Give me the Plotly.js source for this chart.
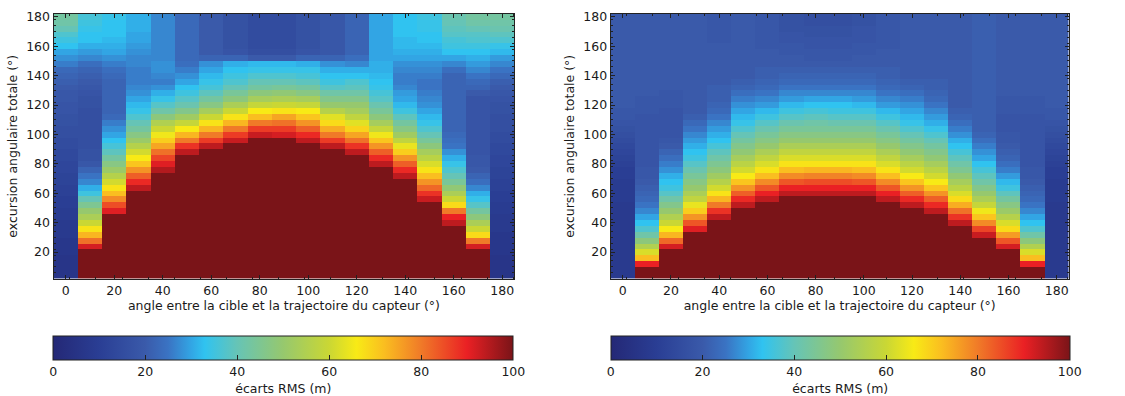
<!DOCTYPE html>
<html><head><meta charset="utf-8">
<script src="https://cdn.plot.ly/plotly-3.0.1.min.js"></script>
<style>html,body{margin:0;padding:0;background:#fff}#g{width:1125px;height:396px}</style>
</head><body><div id="g"></div>
<script>
// x categories: angle between target and sensor trajectory (deg)
const angles = [0,10,20,30,40,50,60,70,80,90,100,110,120,130,140,150,160,170,180];
// y rows: total angular excursion (deg), row centres
const excursions = [4,8,12,16,20,24,28,32,36,40,44,48,52,56,60,64,68,72,76,80,84,88,92,96,100,104,108,112,116,120,124,128,132,136,140,144,148,152,156,160,164,168,172,176,180];
const cbTicks = [0,20,40,60,80,100];

// ---- left map: RMS error (m), one array per angle column, bottom row first
const L0   = [6,6,6,6,7,7,7,8,8,8,9,9,10,10,11,11,12,12,13,13,14,14,15,15,16,16,17,17,18,18,19,19,20,21,22,23,26,28,30,33,35,37,40,42,43];
const L10  = [100,100,100,100,100,92,81,73,67,60,54,50,45,40,35,31,27,25,22,19,17,17,16,16,16,16,16,16,16,17,17,18,19,20,21,22,24,27,29,31,33,33,34,35,36];
const L20  = [100,100,100,100,100,100,100,100,100,100,100,91,85,78,72,67,61,56,51,47,43,39,36,33,30,28,26,23,22,22,22,22,22,22,23,24,26,28,30,31,32,33,33,33,34];
const L30  = [100,100,100,100,100,100,100,100,100,100,100,100,100,100,100,94,89,83,77,71,66,61,56,51,47,43,40,37,34,32,30,28,27,26,26,26,27,27,28,29,30,30,31,31,31];
const L40  = [100,100,100,100,100,100,100,100,100,100,100,100,100,100,100,100,100,100,95,91,86,81,75,70,65,60,55,48,42,38,34,31,28,26,27,28,28,27,27,27,27,27,27,27,27];
const L50  = [100,100,100,100,100,100,100,100,100,100,100,100,100,100,100,100,100,100,100,100,100,94,88,80,73,66,59,52,46,41,38,35,33,30,28,26,24,23,23,23,23,23,23,23,23];
const L60  = [100,100,100,100,100,100,100,100,100,100,100,100,100,100,100,100,100,100,100,100,100,100,94,87,80,73,67,60,53,47,43,39,36,34,32,30,28,22,20,20,20,20,20,20,20];
const L70  = [100,100,100,100,100,100,100,100,100,100,100,100,100,100,100,100,100,100,100,100,100,100,100,93,87,80,73,67,60,54,48,44,40,37,35,33,31,22,18,17,17,17,17,17,17];
const L80  = [100,100,100,100,100,100,100,100,100,100,100,100,100,100,100,100,100,100,100,100,100,100,100,100,93,87,80,72,66,59,53,48,43,40,37,34,32,20,16,15,15,15,15,15,15];
const L90  = [100,100,100,100,100,100,100,100,100,100,100,100,100,100,100,100,100,100,100,100,100,100,100,100,92,87,81,75,67,60,54,49,44,40,37,34,32,20,16,15,15,15,15,15,15];
const L100 = [100,100,100,100,100,100,100,100,100,100,100,100,100,100,100,100,100,100,100,100,100,100,100,94,89,83,77,71,66,59,53,47,43,39,36,34,31,22,18,17,17,17,17,17,17];
const L110 = [100,100,100,100,100,100,100,100,100,100,100,100,100,100,100,100,100,100,100,100,100,100,94,87,80,74,68,63,56,50,46,42,38,35,33,31,28,22,19,19,19,19,19,19,19];
const L120 = [100,100,100,100,100,100,100,100,100,100,100,100,100,100,100,100,100,100,100,100,100,94,88,81,75,69,63,58,53,50,46,42,39,37,33,31,27,24,22,22,22,22,22,22,22];
const L130 = [100,100,100,100,100,100,100,100,100,100,100,100,100,100,100,100,100,100,100,94,89,83,77,71,65,59,53,48,44,41,38,36,34,33,32,31,31,30,30,30,30,30,30,30,30];
const L140 = [100,100,100,100,100,100,100,100,100,100,100,100,100,100,100,100,100,94,89,83,77,70,64,58,52,47,43,39,35,32,30,29,27,26,26,27,28,30,31,32,32,33,33,33,33];
const L150 = [100,100,100,100,100,100,100,100,100,100,100,100,100,93,88,82,77,72,67,62,57,53,48,44,40,37,34,32,30,28,27,26,25,25,26,27,28,30,31,32,33,33,34,34,35];
const L160 = [100,100,100,100,100,100,100,100,100,94,90,80,68,60,54,49,44,40,37,34,31,28,25,24,23,22,22,22,22,22,22,22,22,22,22,24,27,30,33,35,36,38,39,40,41];
const L170 = [100,100,100,100,100,92,80,68,60,54,48,43,38,34,31,27,24,22,20,19,19,18,18,18,18,18,18,18,18,18,18,20,22,23,25,27,29,31,33,35,37,38,40,42,43];
const L180 = [6,6,6,6,7,7,7,7,8,8,8,9,9,10,10,11,11,12,12,13,13,14,14,15,15,16,16,16,17,17,18,19,20,21,23,25,27,29,32,34,37,39,41,42,43];

// ---- right map
const R0   = [8,8,8,8,8,8,8,8,8,8,8,8,8,9,9,9,9,10,10,11,12,13,14,15,16,17,18,19,19,20,20,20,20,20,20,20,20,20,20,20,20,20,20,20,20];
const R10  = [100,100,90,72,62,55,48,42,37,33,30,27,25,23,22,21,20,19,19,18,18,18,18,18,18,18,18,18,19,19,19,20,20,20,20,20,20,20,20,20,20,20,20,20,20];
const R20  = [100,100,100,100,100,92,82,73,66,60,55,50,46,42,38,35,33,31,28,26,24,22,20,19,18,18,18,18,18,19,19,19,20,20,20,20,20,20,20,20,20,20,20,20,20];
const R30  = [100,100,100,100,100,100,100,100,91,84,77,70,64,58,54,50,47,44,41,38,35,33,31,29,27,25,23,21,20,20,20,20,20,20,20,20,20,20,20,20,20,20,20,20,20];
const R40  = [100,100,100,100,100,100,100,100,100,100,94,88,80,73,67,61,56,52,48,45,42,39,36,33,31,29,27,25,23,22,21,21,21,20,20,20,20,20,20,20,19,19,19,19,19];
const R50  = [100,100,100,100,100,100,100,100,100,100,100,100,94,89,83,77,71,66,61,57,53,49,46,43,40,37,34,32,30,28,26,24,22,21,20,20,20,20,20,20,20,20,20,20,20];
const R60  = [100,100,100,100,100,100,100,100,100,100,100,100,100,94,90,84,78,72,67,62,58,54,50,47,44,41,38,35,32,29,27,25,23,22,21,21,20,20,20,19,19,19,19,19,19];
const R70  = [100,100,100,100,100,100,100,100,100,100,100,100,100,100,94,90,84,78,72,67,62,58,54,50,47,44,41,38,35,32,29,27,25,23,22,21,20,20,19,19,18,18,17,17,17];
const R80  = [100,100,100,100,100,100,100,100,100,100,100,100,100,100,94,90,85,79,73,67,62,58,54,50,47,44,42,39,36,33,30,27,25,23,22,21,20,19,19,18,18,17,17,16,16];
const R90  = [100,100,100,100,100,100,100,100,100,100,100,100,100,100,94,90,85,79,73,67,62,58,54,50,47,44,41,38,35,33,30,27,25,23,22,21,20,19,19,18,18,17,17,16,16];
const R100 = [100,100,100,100,100,100,100,100,100,100,100,100,100,100,94,90,84,78,72,67,62,58,54,50,47,44,41,38,35,32,29,27,25,23,22,21,20,20,19,19,18,18,18,17,17];
const R110 = [100,100,100,100,100,100,100,100,100,100,100,100,100,94,90,84,78,72,67,62,58,54,50,47,44,41,38,35,32,29,27,25,23,22,21,21,20,20,20,19,19,19,19,19,19];
const R120 = [100,100,100,100,100,100,100,100,100,100,100,100,94,89,83,77,71,66,61,57,53,49,46,43,40,37,34,32,30,28,26,24,22,21,20,20,20,20,20,20,20,20,20,20,20];
const R130 = [100,100,100,100,100,100,100,100,100,100,100,94,89,83,77,71,66,61,57,53,49,46,43,40,37,34,31,29,27,25,23,22,21,21,20,20,20,20,20,20,20,20,20,20,20];
const R140 = [100,100,100,100,100,100,100,100,100,94,88,81,74,68,62,57,53,49,45,42,39,36,33,31,28,26,24,22,21,20,20,20,20,20,20,20,20,20,20,20,20,20,20,20,20];
const R150 = [100,100,100,100,100,100,100,93,86,78,71,65,59,54,50,46,42,39,36,33,30,28,26,24,22,21,21,21,21,21,21,21,21,21,21,21,21,21,21,21,21,21,21,21,21];
const R160 = [100,100,100,100,100,92,84,76,68,62,56,51,47,43,39,35,32,29,26,24,22,21,20,19,19,18,18,18,19,19,19,20,20,20,20,20,20,20,20,20,20,20,20,20,20];
const R170 = [100,100,90,72,62,55,48,42,37,33,30,27,25,23,22,21,20,19,19,18,18,18,18,18,18,18,18,18,19,19,19,20,20,20,20,20,20,20,20,20,20,20,20,20,20];
const R180 = [8,8,8,8,8,8,8,8,8,8,8,8,8,9,9,9,9,10,10,11,12,13,14,15,16,17,18,19,19,20,20,20,20,20,20,20,20,20,20,20,20,20,20,20,20];

const leftCols  = [L0,L10,L20,L30,L40,L50,L60,L70,L80,L90,L100,L110,L120,L130,L140,L150,L160,L170,L180];
const rightCols = [R0,R10,R20,R30,R40,R50,R60,R70,R80,R90,R100,R110,R120,R130,R140,R150,R160,R170,R180];

function toZ(cols){ return excursions.map((_, k) => cols.map(col => col[k])); }

const cscale = [
  [0.00,'rgb(36,40,118)'],
  [0.10,'rgb(42,62,148)'],
  [0.20,'rgb(58,90,170)'],
  [0.25,'rgb(58,115,195)'],
  [0.30,'rgb(50,165,228)'],
  [0.33,'rgb(48,195,240)'],
  [0.40,'rgb(102,196,182)'],
  [0.50,'rgb(150,200,110)'],
  [0.60,'rgb(202,215,52)'],
  [0.66,'rgb(248,234,22)'],
  [0.72,'rgb(250,190,32)'],
  [0.80,'rgb(240,122,40)'],
  [0.90,'rgb(234,32,36)'],
  [1.00,'rgb(122,20,24)']
];

const W = 1125, H = 396;
const FONT = {family:'DejaVu Sans, sans-serif', size:12.5, color:'#1a1a1a'};
const yTop = 1 - 14/H, yBot = 1 - 280.7/H;
const dL = [53.5/W, 514.4/W], dR = [610.7/W, 1068.7/W];

function xax(domain){
  return {domain, range:[-5,185], tickvals:[0,20,40,60,80,100,120,140,160,180],
    ticks:'inside', ticklen:4, tickcolor:'#222', showline:true, linecolor:'#222', linewidth:1,
    mirror:'ticks', showgrid:false, zeroline:false, automargin:false, tickfont:FONT,
    minor:{tick0:1.75, dtick:10.75, ticks:'inside', ticklen:2, tickcolor:'#222', showgrid:false},
    title:{text:'angle entre la cible et la trajectoire du capteur (°)', font:FONT, standoff:1}};
}
function yax(anchor){
  return {domain:[yBot, yTop], range:[2,182], anchor, tickvals:[20,40,60,80,100,120,140,160,180],
    ticks:'inside', ticklen:4, tickcolor:'#222', showline:true, linecolor:'#222', linewidth:1,
    mirror:'ticks', showgrid:false, zeroline:false, automargin:false, tickfont:FONT,
    minor:{dtick:4, tick0:2, ticks:'inside', ticklen:2, tickcolor:'#222', showgrid:false},
    title:{text:'excursion angulaire totale (°)', font:FONT, standoff:5}};
}
function cbar(x0, x1){
  return {orientation:'h', x:x0, xanchor:'left', len:(x1-x0), lenmode:'fraction',
    y:1-338.3/H, yanchor:'top', thickness:24, thicknessmode:'pixels', xpad:0, ypad:0,
    outlinecolor:'#222', outlinewidth:1, tickvals:cbTicks, ticks:'inside', ticklen:5, tickcolor:'#222',
    tickfont:FONT, title:{text:'écarts RMS (m)', side:'bottom', font:FONT}};
}

const data = [
  {type:'heatmap', x:angles, y:excursions, z:toZ(leftCols), coloraxis:'coloraxis', xaxis:'x', yaxis:'y', hoverongaps:false},
  {type:'heatmap', x:angles, y:excursions, z:toZ(rightCols), coloraxis:'coloraxis2', xaxis:'x2', yaxis:'y2', hoverongaps:false}
];
const layout = {
  width:W, height:H, margin:{l:0,r:0,t:0,b:0}, paper_bgcolor:'#fff', plot_bgcolor:'#fff',
  font:FONT, showlegend:false,
  xaxis:xax(dL), yaxis:yax('x'),
  xaxis2:Object.assign(xax(dR), {anchor:'y2'}), yaxis2:yax('x2'),
  coloraxis:{cmin:0, cmax:100, colorscale:cscale, colorbar:cbar(53.3/W, 513.3/W)},
  coloraxis2:{cmin:0, cmax:100, colorscale:cscale, colorbar:cbar(610.7/W, 1069.3/W)}
};
layout.xaxis.anchor = 'y';
Plotly.newPlot('g', data, layout, {staticPlot:true, displayModeBar:false});
</script></body></html>
